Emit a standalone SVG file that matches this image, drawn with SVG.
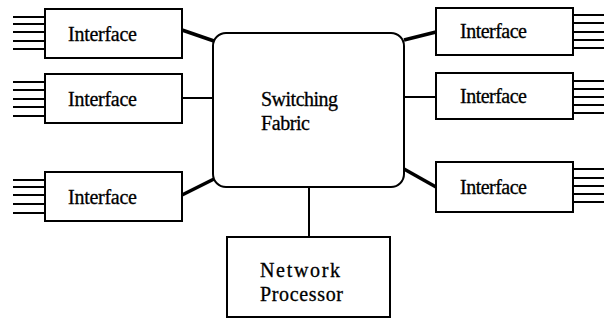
<svg xmlns="http://www.w3.org/2000/svg" width="613" height="328" viewBox="0 0 613 328">
  <style>
    .box { fill: #fff; stroke: #000; stroke-width: 2; }
    .port { stroke: #000; stroke-width: 2; }
    .thick { stroke: #000; stroke-width: 3.5; fill: none; }
    .thin { stroke: #000; stroke-width: 2; fill: none; }
  </style>
  <rect width="613" height="328" fill="#fff"/>

  <g id="connectors">
    <line class="thick" x1="182" y1="30" x2="214" y2="41"/>
    <line class="thin" x1="182" y1="98" x2="214" y2="98"/>
    <line class="thick" x1="182" y1="195" x2="214" y2="179"/>
    <line class="thick" x1="404" y1="40" x2="436" y2="32"/>
    <line class="thin" x1="404" y1="97" x2="436" y2="97"/>
    <line class="thick" x1="404" y1="169" x2="436" y2="187"/>
    <line class="thin" x1="309" y1="187" x2="309" y2="237"/>
  </g>

  <g font-family="Liberation Serif" font-size="20" fill="#000" stroke="#000" stroke-width="0.3">
    <g id="fabric">
      <rect class="box" x="213" y="33" width="191" height="154" rx="13"/>
      <text x="261" y="106" textLength="77">Switching</text>
      <text x="261" y="130" textLength="49">Fabric</text>
    </g>

    <g id="iface-left-1">
      <g class="port">
        <line x1="13" y1="17" x2="45" y2="17"/><line x1="13" y1="24" x2="45" y2="24"/><line x1="13" y1="32" x2="45" y2="32"/><line x1="13" y1="41" x2="45" y2="41"/><line x1="13" y1="49" x2="45" y2="49"/>
      </g>
      <rect class="box" x="45" y="9" width="137" height="49"/>
      <text x="68" y="41" textLength="69">Interface</text>
    </g>

    <g id="iface-left-2">
      <g class="port">
        <line x1="13" y1="82" x2="45" y2="82"/><line x1="13" y1="90" x2="45" y2="90"/><line x1="13" y1="99" x2="45" y2="99"/><line x1="13" y1="107" x2="45" y2="107"/><line x1="13" y1="116" x2="45" y2="116"/>
      </g>
      <rect class="box" x="45" y="74" width="137" height="49"/>
      <text x="68" y="106" textLength="69">Interface</text>
    </g>

    <g id="iface-left-3">
      <g class="port">
        <line x1="13" y1="180" x2="45" y2="180"/><line x1="13" y1="187" x2="45" y2="187"/><line x1="13" y1="195" x2="45" y2="195"/><line x1="13" y1="204" x2="45" y2="204"/><line x1="13" y1="213" x2="45" y2="213"/>
      </g>
      <rect class="box" x="45" y="172" width="137" height="49"/>
      <text x="68" y="204" textLength="69">Interface</text>
    </g>

    <g id="iface-right-1">
      <g class="port">
        <line x1="573" y1="15" x2="604" y2="15"/><line x1="573" y1="23" x2="604" y2="23"/><line x1="573" y1="32" x2="604" y2="32"/><line x1="573" y1="40" x2="604" y2="40"/><line x1="573" y1="48" x2="604" y2="48"/>
      </g>
      <rect class="box" x="436" y="8" width="137" height="47"/>
      <text x="460" y="38" textLength="67">Interface</text>
    </g>

    <g id="iface-right-2">
      <g class="port">
        <line x1="573" y1="81" x2="604" y2="81"/><line x1="573" y1="89" x2="604" y2="89"/><line x1="573" y1="97" x2="604" y2="97"/><line x1="573" y1="105" x2="604" y2="105"/><line x1="573" y1="113" x2="604" y2="113"/>
      </g>
      <rect class="box" x="436" y="73" width="137" height="46"/>
      <text x="460" y="103" textLength="67">Interface</text>
    </g>

    <g id="iface-right-3">
      <g class="port">
        <line x1="573" y1="169" x2="604" y2="169"/><line x1="573" y1="178" x2="604" y2="178"/><line x1="573" y1="186" x2="604" y2="186"/><line x1="573" y1="194" x2="604" y2="194"/><line x1="573" y1="202" x2="604" y2="202"/>
      </g>
      <rect class="box" x="436" y="162" width="137" height="50"/>
      <text x="460" y="194" textLength="67">Interface</text>
    </g>

    <g id="network-processor">
      <rect class="box" x="227" y="237" width="163" height="80"/>
      <text x="260" y="277" textLength="80">Network</text>
      <text x="260" y="301" textLength="83">Processor</text>
    </g>
  </g>
</svg>
